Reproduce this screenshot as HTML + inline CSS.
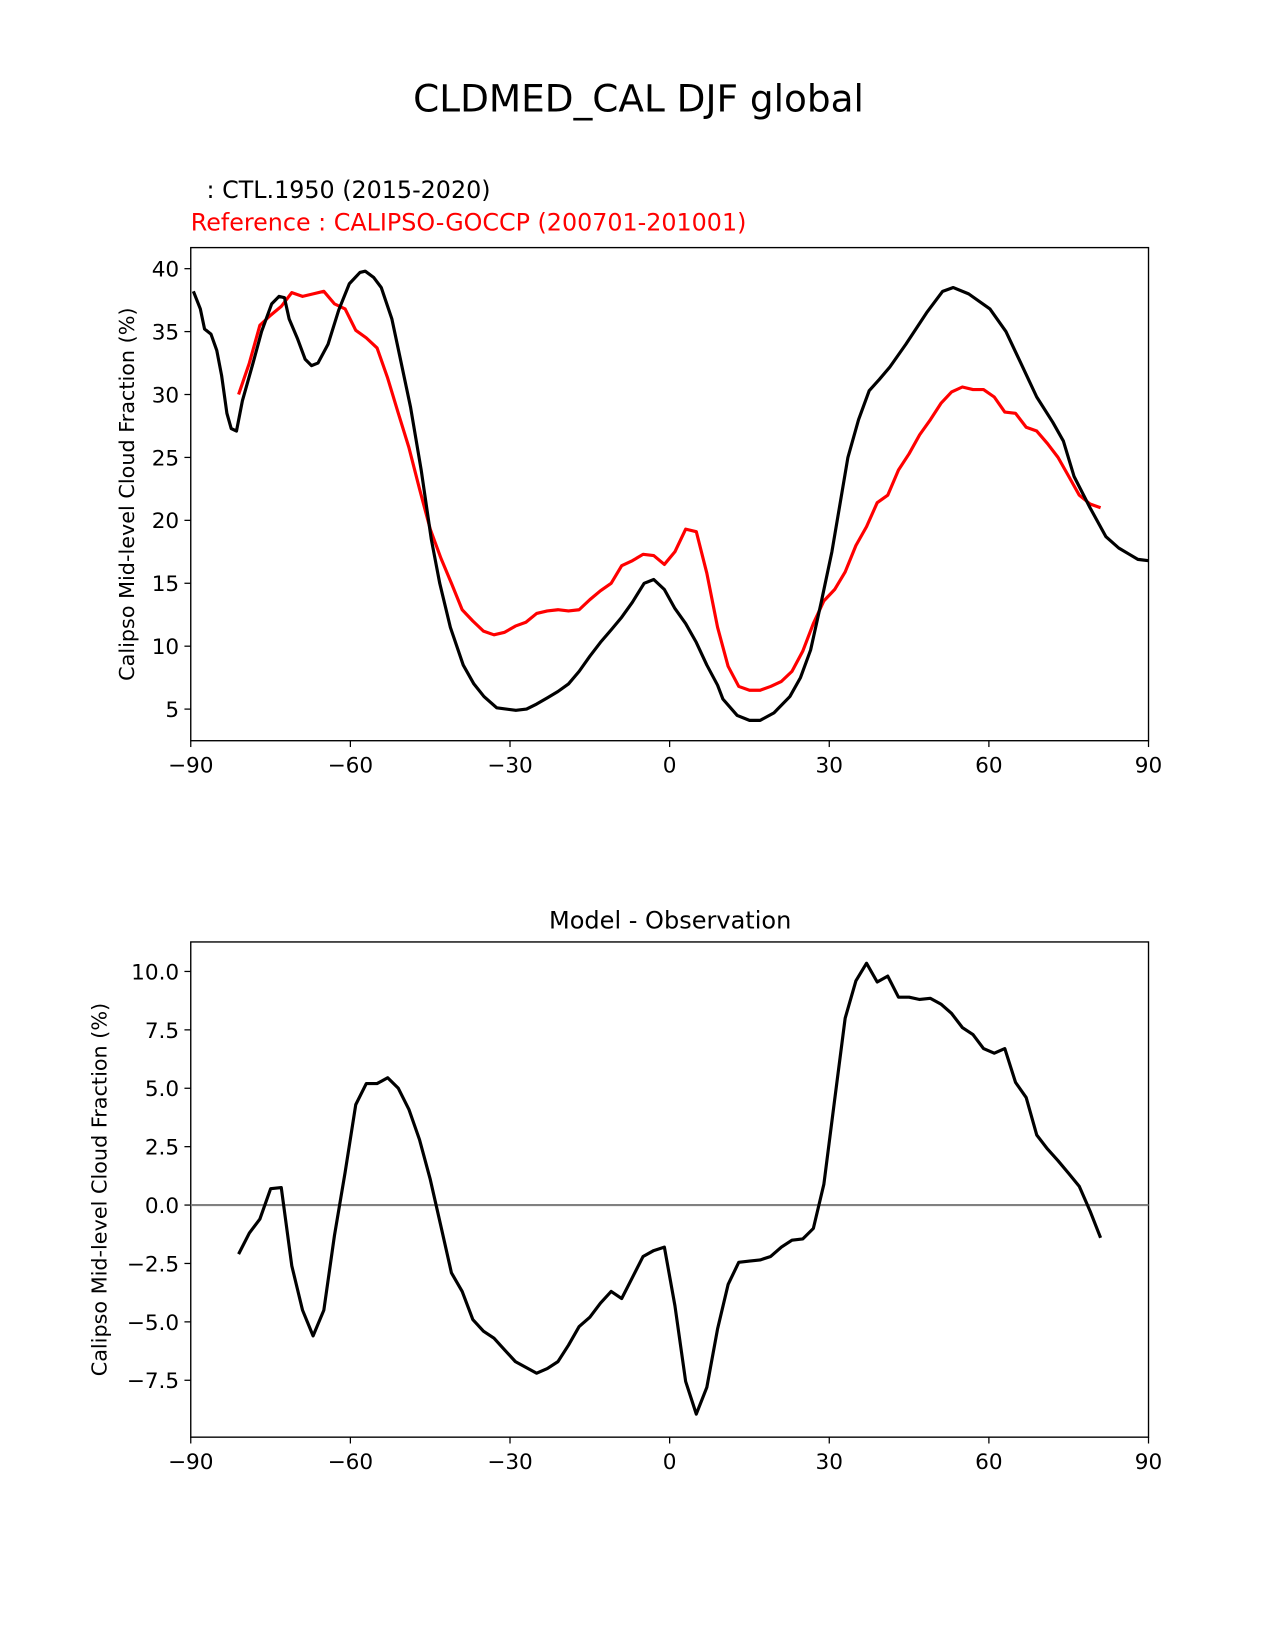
<!DOCTYPE html>
<html><head><meta charset="utf-8"><style>
html,body{margin:0;padding:0;background:#fff;}
svg{display:block;font-family:"DejaVu Sans","Liberation Sans",sans-serif;}
</style></head><body>
<svg id="fig" width="1275" height="1650" viewBox="0 0 1210 1566" xmlns="http://www.w3.org/2000/svg">
<rect width="1210" height="1566" fill="#fff"/>
<text x="606" y="106" font-size="35.5" text-anchor="middle">CLDMED_CAL DJF global</text>
<text x="196" y="188" font-size="22.6">: CTL.1950 (2015-2020)</text>
<text x="181" y="219" font-size="22.6" fill="#ff0000">Reference : CALIPSO-GOCCP (200701-201001)</text>
<text x="636" y="881" font-size="22.8" text-anchor="middle">Model - Observation</text>
<g id="top"></g>
<g id="bot"></g>
</svg>
<script>
const modelLat=[-89.5,-88.2,-87.4,-86.2,-85.1,-84.2,-83.2,-82.4,-81.4,-80.3,-78.3,-76.7,-74.8,-73.4,-72.4,-71.5,-69.9,-68.5,-67.3,-66.1,-64.2,-62.2,-60.2,-58.2,-57.2,-55.6,-54.2,-52.2,-50.7,-48.7,-46.7,-44.8,-43.2,-41.2,-38.8,-36.8,-34.9,-32.5,-28.9,-26.9,-25,-23,-21,-19,-17,-15,-13,-11,-9,-7,-4.8,-3,-1,1,3,5,7,9,10,12.7,15,17,19.6,22.6,24.6,26.5,28.5,30.5,33.5,35.5,37.5,39.4,41.4,44.4,48.3,51.3,53.3,56.2,60.2,63.2,66,69,72,74,76,79,82,84.4,86.4,88,90];
const modelVal=[38.2,36.8,35.2,34.8,33.5,31.5,28.5,27.3,27.1,29.5,32.5,35,37.2,37.8,37.7,36,34.4,32.8,32.3,32.5,34,36.7,38.8,39.7,39.8,39.3,38.5,36,33,29,24,18.5,15,11.5,8.5,7,6,5.1,4.9,5.0,5.4,5.9,6.4,7.0,8.0,9.2,10.3,11.3,12.3,13.5,15,15.3,14.5,13,11.8,10.3,8.5,6.9,5.8,4.5,4.1,4.1,4.7,6,7.5,9.7,13.5,17.5,25,28,30.3,31.2,32.2,34,36.5,38.2,38.5,38,36.8,35,32.5,29.8,27.8,26.3,23.5,21,18.7,17.8,17.3,16.9,16.8];
const refLat=[-81,-79,-77,-75,-73,-71,-69,-67,-65,-63,-61,-59,-57,-55,-53,-51,-49,-47,-45,-43,-41,-39,-37,-35,-33,-31,-29,-27,-25,-23,-21,-19,-17,-15,-13,-11,-9,-7,-5,-3,-1,1,3,5,7,9,11,13,15,17,19,21,23,25,27,29,31,33,35,37,39,41,43,45,47,49,51,53,55,57,59,61,63,65,67,69,71,73,75,77,79,81];
const refVal=[30,32.5,35.5,36.3,37.0,38.1,37.8,38.0,38.2,37.2,36.8,35.1,34.5,33.7,31.3,28.5,25.8,22.5,19.3,17.0,15.0,12.9,12.0,11.2,10.9,11.1,11.6,11.9,12.6,12.8,12.9,12.8,12.9,13.7,14.4,15.0,16.4,16.8,17.3,17.2,16.5,17.5,19.3,19.1,15.8,11.5,8.4,6.8,6.5,6.5,6.8,7.2,8.0,9.6,11.8,13.6,14.5,15.9,18.0,19.5,21.4,22.0,24.0,25.3,26.8,28.0,29.3,30.2,30.6,30.4,30.4,29.8,28.6,28.5,27.4,27.1,26.1,25.0,23.5,22.0,21.3,21.0];
const diffVal=[-2.1,-1.2,-0.6,0.7,0.75,-2.6,-4.5,-5.6,-4.5,-1.3,1.4,4.3,5.2,5.2,5.45,5.0,4.1,2.8,1.1,-0.9,-2.9,-3.7,-4.9,-5.4,-5.7,-6.2,-6.7,-6.95,-7.2,-7.0,-6.7,-6.0,-5.2,-4.8,-4.2,-3.7,-4.0,-3.1,-2.2,-1.95,-1.8,-4.3,-7.55,-8.95,-7.8,-5.3,-3.4,-2.45,-2.4,-2.35,-2.2,-1.8,-1.5,-1.45,-1.0,0.9,4.5,8.0,9.6,10.35,9.55,9.8,8.9,8.9,8.8,8.85,8.6,8.2,7.6,7.3,6.7,6.5,6.7,5.25,4.6,3.0,2.4,1.9,1.35,0.8,-0.25,-1.4];
const xTicks=[-90,-60,-30,0,30,60,90];
const xTickLabels=["\u221290","\u221260","\u221230","0","30","60","90"];
const topYTicks=[5,10,15,20,25,30,35,40];
const botYTicks=[-7.5,-5,-2.5,0,2.5,5,7.5,10];
const botYTickLabels=["\u22127.5","\u22125.0","\u22122.5","0.0","2.5","5.0","7.5","10.0"];
const NS="http://www.w3.org/2000/svg";
function mk(tag,attrs,parent){const e=document.createElementNS(NS,tag);for(const k in attrs)e.setAttribute(k,attrs[k]);parent.appendChild(e);return e;}
function panel(g,box,yfn,yticks,ylabels,ytitleX){
  const X=v=>box.l+(v+90)/180*(box.r-box.l);
  mk('rect',{x:box.l,y:box.t,width:box.r-box.l,height:box.b-box.t,fill:'none',stroke:'#000','stroke-width':1.3},g);
  xTicks.forEach((t,i)=>{
    const l=mk('line',{x1:X(t),x2:X(t),y1:box.b,y2:box.b+6,stroke:'#000','stroke-width':1.2},g);
    
    
    const tx=mk('text',{x:X(t),y:box.b+30,'font-size':20.5,'text-anchor':'middle'},g);
    tx.textContent=xTickLabels[i];
    
    
  });
  yticks.forEach((t,i)=>{
    const y=yfn(t);
    const l=mk('line',{x1:box.l-6,x2:box.l,y1:y,y2:y,stroke:'#000','stroke-width':1.2},g);
    
    
    const tx=mk('text',{x:box.l-11,y:y+7.5,'font-size':20.5,'text-anchor':'end'},g);
    tx.textContent=ylabels?ylabels[i]:String(t);
    
    
  });
  const cy=(box.t+box.b)/2;
  const yt=mk('text',{x:ytitleX,y:cy,'font-size':19.7,'text-anchor':'middle',transform:`rotate(-90 ${ytitleX} ${cy})`},g);
  yt.textContent='Calipso Mid-level Cloud Fraction (%)';
  
  
  return X;
}
function line(g,X,Y,lats,vals,color,name){
  const d=lats.map((la,i)=>(i?'L':'M')+X(la).toFixed(1)+','+Y(vals[i]).toFixed(1)).join('');
  const p=mk('path',{d:d,fill:'none',stroke:color,'stroke-width':3,'stroke-linejoin':'round'},g);
  
  
}
const tg=document.getElementById('top');
const tbox={l:181,r:1090,t:235,b:703};
const TY=v=>255+(40-v)*(673-255)/35;
const TX=panel(tg,tbox,TY,topYTicks,null,127);
line(tg,TX,TY,refLat,refVal,'#ff0000','reference-line');
line(tg,TX,TY,modelLat,modelVal,'#000000','model-line');
const bg=document.getElementById('bot');
const bbox={l:181,r:1090,t:894,b:1364};
const BY=v=>922+(10-v)*(1310-922)/17.5;
const BX=panel(bg,bbox,BY,botYTicks,botYTickLabels,101);
const z=mk('line',{x1:bbox.l,x2:bbox.r,y1:BY(0),y2:BY(0),stroke:'#808080','stroke-width':2},bg);


line(bg,BX,BY,refLat,diffVal,'#000000','difference-line');
</script>
</body></html>
